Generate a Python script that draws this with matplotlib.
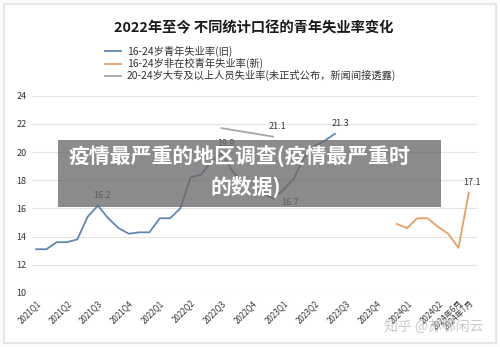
import numpy as np
import matplotlib
matplotlib.use("Agg")
import matplotlib.pyplot as plt
from matplotlib.patches import Rectangle

plt.rcParams['font.family'] = ['Noto Sans CJK SC', 'DejaVu Sans']

# monthly index, 0 = 2021-01 ... 42 = 2024-07
tick_pos = [0, 3, 6, 9, 12, 15, 18, 21, 24, 27, 30, 33, 36, 39, 41, 42]
tick_labels = ["2021Q1", "2021Q2", "2021Q3", "2021Q4", "2022Q1", "2022Q2", "2022Q3", "2022Q4",
               "2023Q1", "2023Q2", "2023Q3", "2023Q4", "2024Q1", "2024Q2", "2024年6月", "2024年7月"]

old_x = list(range(0, 30))
old_rate = [13.1, 13.1, 13.6, 13.6, 13.8, 15.4, 16.2, 15.3, 14.6, 14.2, 14.3, 14.3,
            15.3, 15.3, 16.0, 18.2, 18.4, 19.3, 19.9, 18.7, 17.9, 17.9, 17.1, 16.7,
            17.3, 18.1, 19.6, 20.4, 20.8, 21.3]

new_x = list(range(35, 43))
new_rate = [14.9, 14.6, 15.3, 15.3, 14.7, 14.2, 13.2, 17.1]

college_x = [18, 23]
college_rate = [21.7, 21.1]

names = ["16-24岁青年失业率(旧)", "16-24岁非在校青年失业率(新)",
         "20-24岁大专及以上人员失业率(未正式公布，新闻间接透露)"]

blue = "#5f86b3"
orange = "#e5a064"
grey = "#a6a6a6"

fig = plt.figure(figsize=(5, 3.47), dpi=100)
fig.patch.set_facecolor("#fbfbfb")
fig.patches.append(Rectangle((0.008, 0.012), 0.984, 0.976, transform=fig.transFigure,
                             facecolor="white", edgecolor="#e2e2e2", lw=1.2, zorder=-5))

ax = fig.add_axes([0.064, 0.156, 0.89, 0.568])
ax.set_facecolor("none")
l1, = ax.plot(old_x, old_rate, color=blue, lw=1.3, label=names[0])
l2, = ax.plot(new_x, new_rate, color=orange, lw=1.3, label=names[1])
l3, = ax.plot(college_x, college_rate, color=grey, lw=1.3, label=names[2])

ax.set_xlim(-0.4, 42.8)
ax.set_ylim(10, 24)
ax.set_yticks(range(10, 25, 2))
ax.grid(axis="y", color="#e3e3e3", lw=0.8)
ax.set_axisbelow(True)
for s in ax.spines.values():
    s.set_visible(False)
ax.tick_params(length=0, labelsize=6.5, colors="#333333", pad=4)
ax.set_xticks(tick_pos)
ax.set_xticklabels(tick_labels, rotation=45, ha="right", rotation_mode="anchor", fontsize=5.8)

# data labels
lab = dict(fontsize=6.5, color="#333333", ha="center", va="bottom")
ax.annotate("16.2", (6, 16.2), xytext=(3, 4), textcoords="offset points", **lab)
ax.annotate("19.9", (18, 19.9), xytext=(3, 4), textcoords="offset points", **lab)
ax.annotate("21.3", (29, 21.3), xytext=(4, 4), textcoords="offset points", **lab)
ax.annotate("21.1", (23, 21.1), xytext=(3, 4), textcoords="offset points", **lab)
ax.annotate("17.1", (42, 17.1), xytext=(2, 4), textcoords="offset points", **lab)
ax.annotate("16.7", (23, 16.7), xytext=(12, -3), textcoords="offset points",
            fontsize=6.5, color="#333333", ha="center", va="center")

fig.text(0.508, 0.918, "2022年至今 不同统计口径的青年失业率变化", ha="center", va="center",
         fontsize=10.3, fontweight="bold", color="#1a1a1a")

fig.legend(handles=[l1, l2, l3], loc="upper left", bbox_to_anchor=(0.21, 0.868),
           frameon=False, fontsize=7.4, handlelength=1.6, handletextpad=0.5,
           labelspacing=0.1, borderpad=0, borderaxespad=0, labelcolor="#333333")

# overlay banner
fig.patches.append(Rectangle((0.116, 0.4035), 0.766, 0.193, transform=fig.transFigure,
                             facecolor="#6a6a6a", alpha=0.78, edgecolor="none", zorder=5))
fig.text(0.478, 0.547, "疫情最严重的地区调查(疫情最严重时", ha="center", va="center",
         fontsize=15, fontweight="bold", color="white", zorder=6)
fig.text(0.492, 0.46, "的数据)", ha="center", va="center",
         fontsize=15, fontweight="bold", color="white", zorder=6)

fig.text(0.867, 0.058, "知乎 @苏鄂闲云", ha="center", va="center",
         fontsize=10, color="#bdbdbd", alpha=0.8)

fig.savefig("out.png", dpi=100, facecolor=fig.get_facecolor())
